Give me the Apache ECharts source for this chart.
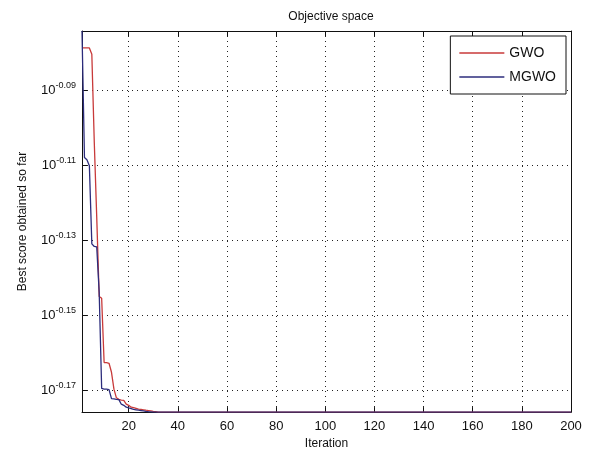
<!DOCTYPE html>
<html>
<head>
<meta charset="utf-8">
<script src="https://cdn.jsdelivr.net/npm/echarts@6/dist/echarts.min.js"></script>
<style>
  html, body { margin: 0; padding: 0; background: #fff; }
  #chart { width: 591px; height: 455px; }
</style>
</head>
<body>
<div id="chart"></div>
<script>
// Iterations at which the best score is recorded (flat after iteration 32)
const iterations = [1, 2, 3, 4, 5, 6, 7, 8, 9, 10, 11, 12, 13, 14, 15, 16,
  17, 18, 19, 20, 21, 22, 23, 24, 25, 26, 27, 28, 29, 30, 31, 32, 200];

// Best score obtained so far, GWO
const scoreGWO = [0.83406, 0.83406, 0.83406, 0.83406, 0.83081, 0.78705, 0.75162, 0.71614,
  0.71532, 0.68770, 0.68770, 0.68739, 0.68360, 0.67655, 0.67298, 0.67236,
  0.67205, 0.67190, 0.67035, 0.66988, 0.66911, 0.66896, 0.66865, 0.66834,
  0.66819, 0.66804, 0.66788, 0.66773, 0.66758, 0.66742, 0.66727, 0.66711, 0.66711];

// Best score obtained so far, MGWO
const scoreMGWO = [0.84275, 0.77984, 0.77876, 0.77590, 0.73960, 0.73843, 0.73826, 0.71779,
  0.67686, 0.67655, 0.67655, 0.67640, 0.67267, 0.67252, 0.67236, 0.67221,
  0.67035, 0.66988, 0.66911, 0.66880, 0.66850, 0.66819, 0.66804, 0.66788,
  0.66773, 0.66758, 0.66742, 0.66727, 0.66719, 0.66711, 0.66711, 0.66711, 0.66711];

// Axis ticks
const xTicks = [20, 40, 60, 80, 100, 120, 140, 160, 180, 200];
const yTickExponents = [-0.09, -0.11, -0.13, -0.15, -0.17];

const seriesNames = ['GWO', 'MGWO'];
const seriesColors = ['#c83a3a', '#2c2c7c'];

const yTickValues = yTickExponents.map(e => Math.pow(10, e));
const font = 'Liberation Sans, Arial, sans-serif';

function pairs(ys) { return iterations.map((x, i) => [x, ys[i]]); }

const gridLine = { show: true, lineStyle: { color: '#222', width: 1, type: [1, 4] } };

const chart = echarts.init(document.getElementById('chart'), null, { renderer: 'canvas' });
chart.setOption({
  backgroundColor: '#fff',
  animation: false,
  title: {
    text: 'Objective space',
    left: 326, top: 6, textAlign: 'center',
    textStyle: { fontFamily: font, fontSize: 12, fontWeight: 'normal', color: '#111' }
  },
  legend: {
    data: seriesNames.map(n => ({ name: n, icon: 'rect' })),
    orient: 'vertical',
    right: 25, top: 36,
    itemWidth: 45, itemHeight: 1.5, itemGap: 8,
    padding: [9, 10, 9, 9],
    backgroundColor: '#fff',
    borderColor: '#111', borderWidth: 1,
    textStyle: { fontFamily: font, fontSize: 14, color: '#111', lineHeight: 16 }
  },
  grid: { left: 82, right: 20, top: 31, bottom: 42, containLabel: false },
  xAxis: [{
    type: 'value', min: 1, max: 200,
    position: 'bottom',
    name: 'Iteration', nameLocation: 'middle', nameGap: 23,
    nameTextStyle: { fontFamily: font, fontSize: 12, color: '#111' },
    axisLine: { show: true, onZero: false, lineStyle: { color: '#111', width: 1 } },
    axisTick: { show: true, inside: true, length: 5, customValues: xTicks, lineStyle: { color: '#111' } },
    axisLabel: { show: true, customValues: xTicks, margin: 8, fontFamily: font, fontSize: 13, color: '#111' },
    splitLine: gridLine
  }, {
    type: 'value', min: 1, max: 200,
    position: 'top',
    axisLine: { show: true, onZero: false, lineStyle: { color: '#111', width: 1 } },
    axisTick: { show: true, inside: true, length: 5, customValues: xTicks, lineStyle: { color: '#111' } },
    axisLabel: { show: false },
    splitLine: { show: false }
  }],
  yAxis: [{
    type: 'log', logBase: 10, min: 'dataMin', max: 'dataMax',
    position: 'left',
    name: 'Best score obtained so far', nameLocation: 'middle', nameGap: 53, nameRotate: 90,
    nameTextStyle: { fontFamily: font, fontSize: 12, color: '#111' },
    axisLine: { show: true, onZero: false, lineStyle: { color: '#111', width: 1 } },
    axisTick: { show: true, inside: true, length: 5, customValues: yTickValues, lineStyle: { color: '#111' } },
    axisLabel: {
      show: true, customValues: yTickValues, margin: 6,
      formatter: v => '{b|10}{s|' + Math.log10(v).toFixed(2) + '}',
      rich: {
        b: { fontFamily: font, fontSize: 13, color: '#111' },
        s: { fontFamily: font, fontSize: 9, color: '#111', padding: [0, 0, 9, 0] }
      }
    },
    splitLine: gridLine
  }, {
    type: 'log', logBase: 10, min: 'dataMin', max: 'dataMax',
    position: 'right',
    axisLine: { show: true, onZero: false, lineStyle: { color: '#111', width: 1 } },
    axisTick: { show: true, inside: true, length: 5, customValues: yTickValues, lineStyle: { color: '#111' } },
    axisLabel: { show: false },
    splitLine: { show: false }
  }],
  series: [{
    name: seriesNames[0], type: 'line',
    data: pairs(scoreGWO),
    symbol: 'none', showSymbol: false,
    lineStyle: { color: seriesColors[0], width: 1.3 },
    itemStyle: { color: seriesColors[0] },
    z: 3
  }, {
    name: seriesNames[1], type: 'line',
    data: pairs(scoreMGWO),
    symbol: 'none', showSymbol: false,
    lineStyle: { color: seriesColors[1], width: 1.3 },
    itemStyle: { color: seriesColors[1] },
    z: 4
  }]
});
</script>
</body>
</html>
